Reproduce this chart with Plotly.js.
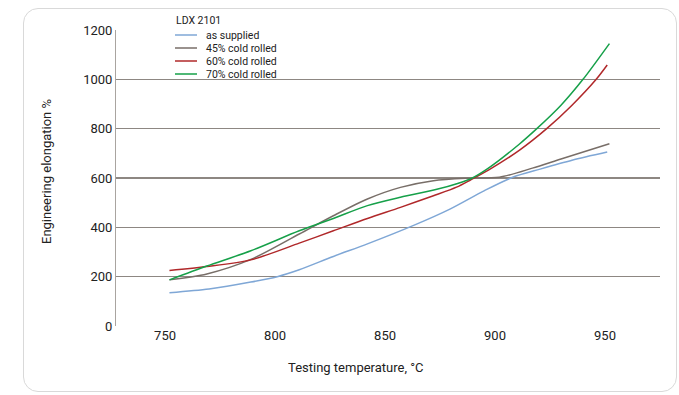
<!DOCTYPE html>
<html>
<head>
<meta charset="utf-8">
<script src="https://cdn.plot.ly/plotly-3.0.1.min.js"></script>
<style>
  html, body { margin: 0; padding: 0; background: #fff; }
  #wrap { position: relative; width: 679px; height: 395px; }
  #card { position: absolute; left: 23px; top: 8px; width: 654px; height: 384px;
          border: 1px solid #d9d9d9; border-radius: 15px; box-sizing: border-box; }
  #chart { position: absolute; left: 0; top: 0; width: 679px; height: 395px; }
</style>
</head>
<body>
<div id="wrap">
  <div id="card"></div>
  <div id="chart"></div>
</div>
<script>
const legendTitle = "LDX 2101";
const seriesNames = ["as supplied", "45% cold rolled", "60% cold rolled", "70% cold rolled"];
const xTitle = "Testing temperature, °C";
const yTitle = "Engineering elongation %";

const tempSupplied = [752, 770, 789, 801, 811, 826.5, 842, 863, 879.5, 895, 908, 920.5, 935, 951];
const valSupplied  = [135, 150, 178, 200, 228, 282, 333, 408, 474, 548, 603, 636, 672, 705];

const temp45 = [752, 769, 789, 811, 826.5, 842, 857, 872, 887, 902, 917, 930, 952];
const val45  = [187, 211, 270, 373, 447, 515, 562, 589, 599, 603, 640, 677, 739];

const temp60 = [752, 769, 789, 811, 826.5, 842, 857, 872, 882.5, 889, 897, 911, 923.5, 935, 946, 951];
const val60  = [225, 241, 268, 336, 386, 436, 481, 528, 563, 593, 632, 712, 800, 895, 1000, 1058];

const temp70 = [752, 769, 789, 811, 826.5, 842, 857, 874, 883, 889, 897, 911, 919, 930, 940, 952];
const val70  = [187, 243, 305, 386, 436, 488, 522, 555, 578, 597, 640, 737, 800, 895, 1000, 1145];

const xTicks = [750, 800, 850, 900, 950];
const yTicks = [0, 200, 400, 600, 800, 1000, 1200];

const colors = ["#7fa7d6", "#786e68", "#b0282a", "#16a049"];
const xs = [tempSupplied, temp45, temp60, temp70];
const ys = [valSupplied, val45, val60, val70];

const traces = seriesNames.map((n, i) => ({
  x: xs[i], y: ys[i], name: n, type: "scatter", mode: "lines",
  line: { color: colors[i], width: 1.5, shape: "spline", smoothing: 0.8 }
}));

// plot area in pixels: x 116..660, y 30..326
const L = 116, R = 19, T = 30, B = 69, W = 679, H = 395;
const pw = W - L - R, ph = H - T - B;
const px = v => (v - L) / pw;
const py = v => (H - B - v) / ph;

const font = "Roboto, 'DejaVu Sans Condensed', sans-serif";
const legendY = [35, 48, 61, 74];
const shapes = seriesNames.map((n, i) => ({
  type: "line", xref: "paper", yref: "paper",
  x0: px(175), x1: px(197), y0: py(legendY[i]), y1: py(legendY[i]),
  line: { color: colors[i], width: 1.5 }
}));
const annotations = seriesNames.map((n, i) => ({
  text: n, xref: "paper", yref: "paper", x: px(204), y: py(legendY[i]),
  xanchor: "left", yanchor: "middle", showarrow: false,
  font: { size: 10.5, color: "#222", family: font }
}));
annotations.push({
  text: legendTitle, xref: "paper", yref: "paper", x: px(174), y: py(21),
  xanchor: "left", yanchor: "middle", showarrow: false,
  font: { size: 10.5, color: "#222", family: font }
});
annotations.push({
  text: xTitle, xref: "paper", yref: "paper", x: px(356), y: py(367),
  xanchor: "center", yanchor: "middle", showarrow: false,
  font: { size: 13, color: "#222", family: font }
});
annotations.push({
  text: yTitle, xref: "paper", yref: "paper", x: px(46), y: py(172),
  xanchor: "center", yanchor: "middle", showarrow: false, textangle: -90,
  font: { size: 13, color: "#222", family: font }
});

const layout = {
  width: W, height: H,
  margin: { l: L, r: R, t: T, b: B },
  paper_bgcolor: "rgba(0,0,0,0)",
  plot_bgcolor: "rgba(0,0,0,0)",
  font: { family: font, size: 13, color: "#222" },
  showlegend: false,
  shapes: shapes,
  annotations: annotations,
  xaxis: {
    range: [727.7, 975], tickvals: xTicks, ticktext: xTicks.map(String),
    showgrid: false, zeroline: false, showline: false, ticks: "",
    tickfont: { size: 13 }
  },
  yaxis: {
    range: [0, 1200], tickvals: yTicks, ticktext: yTicks.map(String),
    showgrid: true, gridcolor: "#8d8782", gridwidth: 1.3,
    zeroline: false, showline: true, linecolor: "#a9a4a0", linewidth: 1,
    ticks: "", tickfont: { size: 13 }
  }
};

Plotly.newPlot("chart", traces, layout, { displayModeBar: false, staticPlot: true });
</script>
</body>
</html>
